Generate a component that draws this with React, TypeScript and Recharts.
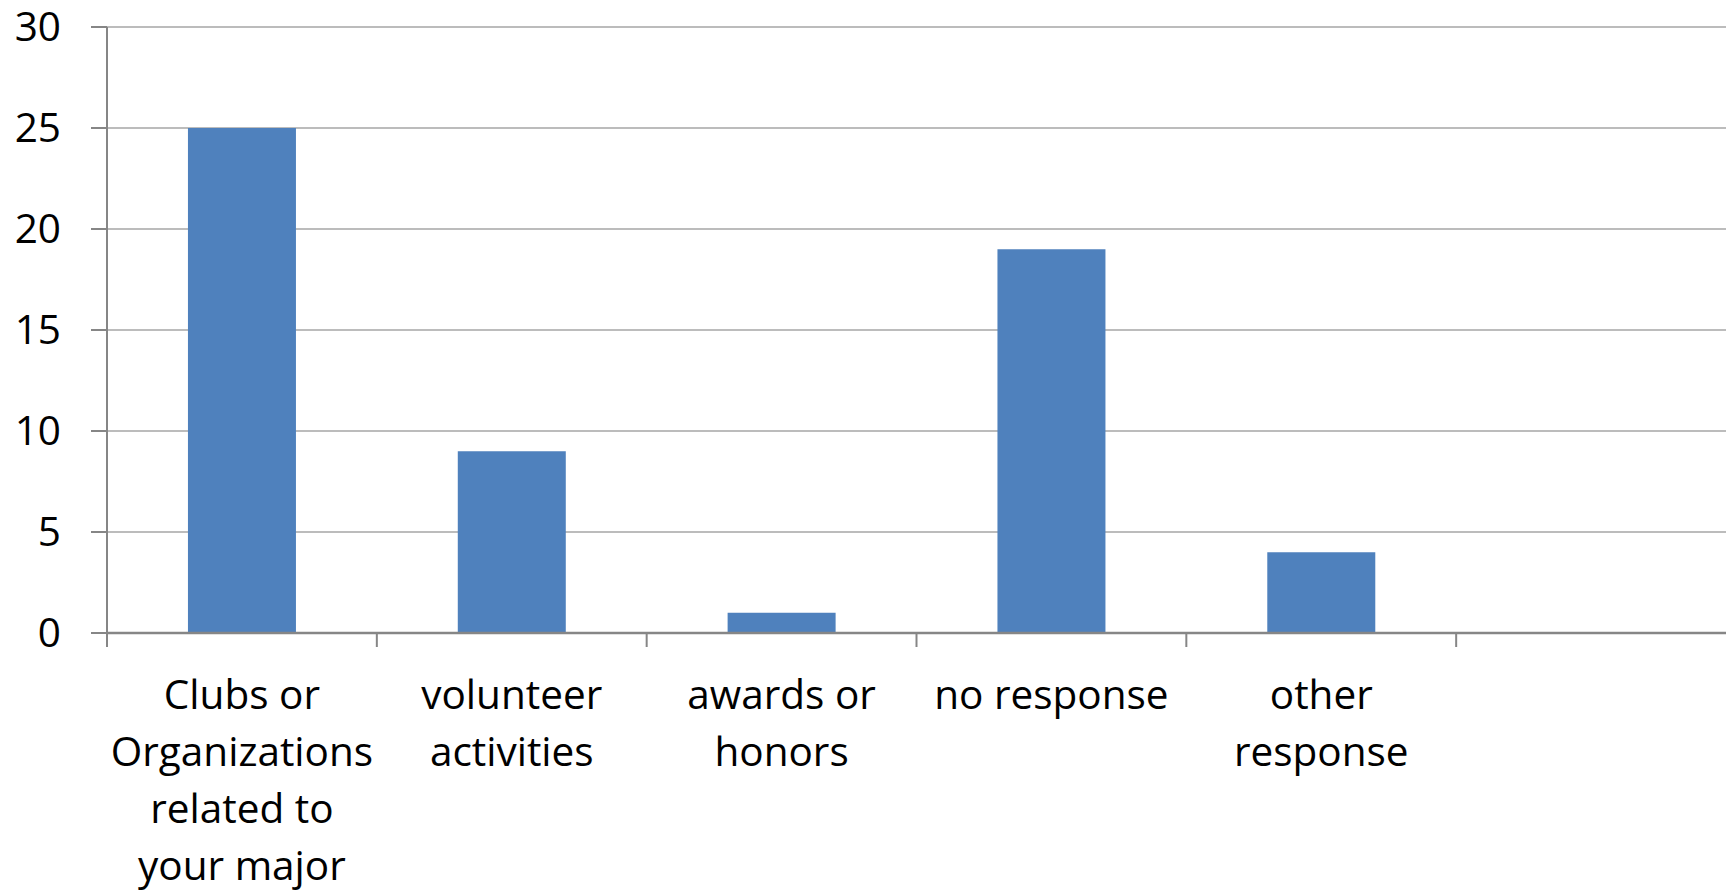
import React from 'react'
import { BarChart, Bar, XAxis, YAxis, CartesianGrid } from 'recharts'

const categories = [
  'Clubs or\nOrganizations\nrelated to\nyour major',
  'volunteer\nactivities',
  'awards or\nhonors',
  'no response',
  'other\nresponse',
  '',
]
const responses: (number | null)[] = [25, 9, 1, 19, 4, null]
const yTicks = [0, 5, 10, 15, 20, 25, 30]

const FONT = 'Open Sans'
const AXIS = '#868686'

const data = categories.map((name, i) => ({ name, value: responses[i] }))

// label lines + a tick mark on the left edge of each category band
function CategoryTick({ x, y, payload }: any) {
  const lines = String(payload.value).split('\n')
  const edge = x - (payload.offset || 0)
  return (
    <g>
      <line x1={edge} x2={edge} y1={y} y2={y + 14} stroke={AXIS} strokeWidth={2} />
      <text x={x} y={y + 76} textAnchor="middle" fontFamily={FONT} fontSize={40.5} fill="#000">
        {lines.map((l, i) => (
          <tspan key={i} x={x} dy={i === 0 ? 0 : 57}>{l}</tspan>
        ))}
      </text>
    </g>
  )
}

export default function App() {
  return (
    <div style={{ position: 'absolute', left: 0, top: 0, background: '#fff' }}>
      <BarChart
        width={1726}
        height={895}
        data={data}
        margin={{ top: 27, right: 0, left: 0, bottom: 0 }}
        barCategoryGap="30%"
      >
        <CartesianGrid vertical={false} stroke="#a6a6a6" strokeWidth={1.5} />
        <XAxis
          dataKey="name"
          height={262}
          axisLine={{ stroke: AXIS, strokeWidth: 2.5 }}
          tickLine={false}
          tickSize={0}
          tickMargin={0}
          interval={0}
          tick={<CategoryTick />}
        />
        <YAxis
          width={107}
          domain={[0, 30]}
          ticks={yTicks}
          interval={0}
          axisLine={{ stroke: AXIS, strokeWidth: 2 }}
          tickLine={{ stroke: AXIS, strokeWidth: 2 }}
          tickSize={16}
          tickMargin={30}
          tick={{ fontFamily: FONT, fontSize: 40.5, fill: '#000' }}
        />
        <Bar dataKey="value" fill="#4f81bd" isAnimationActive={false} />
      </BarChart>
    </div>
  )
}
